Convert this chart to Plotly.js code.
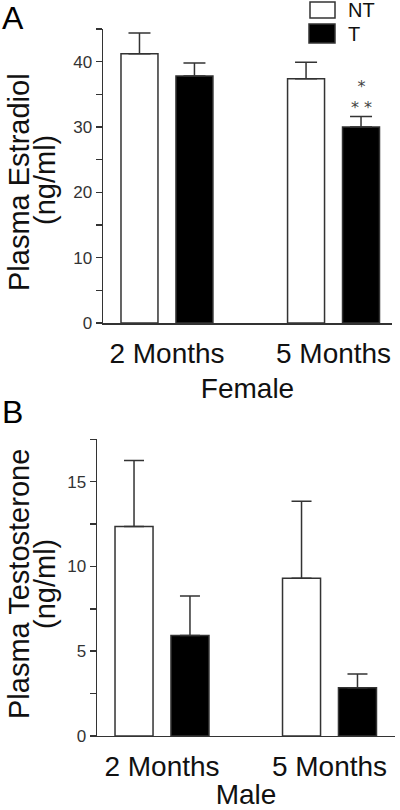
<!DOCTYPE html>
<html>
<head>
<meta charset="utf-8">
<script src="https://cdn.plot.ly/plotly-3.0.1.min.js"></script>
<style>html,body{margin:0;padding:0;background:#fff;}#chart{width:400px;height:810px;}</style>
</head>
<body>
<div id="chart"></div>
<script>
// Data
var categories = ['2 Months', '5 Months'];
var seriesNames = ['NT', 'T'];
// Panel A: Plasma Estradiol (ng/ml), Female
var estradiolNT = [41.2, 37.4];
var estradiolNTerr = [3.2, 2.5];
var estradiolT = [37.8, 30.0];
var estradiolTerr = [2.0, 1.6];
// Panel B: Plasma Testosterone (ng/ml), Male
var testoNT = [12.35, 9.3];
var testoNTerr = [3.9, 4.55];
var testoT = [5.92, 2.84];
var testoTerr = [2.33, 0.81];
var yTicksA = [0, 10, 20, 30, 40];
var yTicksB = [0, 5, 10, 15];

var font = 'Arial, "Liberation Sans", Helvetica, sans-serif';
var lineCol = '#333';

function bar(x, y, err, name, fill, xa, ya, w, off, ew) {
  return {
    type: 'bar', x: x, y: y, name: name, xaxis: xa, yaxis: ya,
    width: w, offset: off,
    marker: {color: fill, line: {color: lineCol, width: 1.5}},
    error_y: {type: 'data', array: err, arrayminus: err.map(function(){return 0;}), symmetric: false,
      color: lineCol, thickness: 1.5, width: ew},
    showlegend: false, hoverinfo: 'skip'
  };
}

var traces = [
  bar(categories, estradiolNT, estradiolNTerr, seriesNames[0], '#fff', 'x', 'y', 0.222, -0.276, 11),
  bar(categories, estradiolT, estradiolTerr, seriesNames[1], '#000', 'x', 'y', 0.222, 0.054, 11),
  bar(categories, testoNT, testoNTerr, seriesNames[0], '#fff', 'x2', 'y2', 0.227, -0.2805, 10),
  bar(categories, testoT, testoTerr, seriesNames[1], '#000', 'x2', 'y2', 0.227, 0.0535, 10)
];

function xaxis(domain, range, title, anchor, standoff) {
  return {
    domain: domain, anchor: anchor, type: 'category', categoryarray: categories,
    range: range, showline: true, linecolor: lineCol, linewidth: 1.5,
    ticks: '', showgrid: false, zeroline: false, fixedrange: true,
    tickfont: {family: font, size: 28, color: '#111'},
    ticklabelstandoff: 5,
    title: {text: title, font: {family: font, size: 28, color: '#111'}, standoff: standoff}
  };
}
function yaxis(domain, range, ticks, anchor, minorStep) {
  return {
    domain: domain, anchor: anchor, range: range, showline: true, linecolor: lineCol, linewidth: 1.5,
    tickmode: 'array', tickvals: ticks, ticktext: ticks.map(String),
    ticks: 'outside', ticklen: 6, tickwidth: 1.5, tickcolor: lineCol,
    minor: {dtick: minorStep, tick0: 0, ticks: 'outside', ticklen: 6, tickwidth: 1.5, tickcolor: lineCol},
    showgrid: false, zeroline: false, fixedrange: true,
    tickfont: {family: font, size: 17, color: '#333'}
  };
}

var layout = {
  width: 400, height: 810,
  margin: {l: 0, r: 0, t: 0, b: 0},
  paper_bgcolor: '#fff', plot_bgcolor: '#fff',
  showlegend: false,
  bargap: 0,
  xaxis: xaxis([0.2575, 0.98], [-0.384, 1.351], 'Female', 'y', 10),
  yaxis: yaxis([0.6012, 0.9642], [0, 45], yTicksA, 'x', 5),
  xaxis2: xaxis([0.2425, 0.9875], [-0.388, 1.391], 'Male', 'y2', 12),
  yaxis2: yaxis([0.0914, 0.4577], [0, 17.5], yTicksB, 'x2', 2.5),
  shapes: [
    {type: 'rect', xref: 'paper', yref: 'paper', x0: 310/400, x1: 335/400, y0: 1-18/810, y1: 1-2/810,
     fillcolor: '#fff', line: {color: lineCol, width: 1.5}},
    {type: 'rect', xref: 'paper', yref: 'paper', x0: 309/400, x1: 335/400, y0: 1-43/810, y1: 1-24/810,
     fillcolor: '#000', line: {color: lineCol, width: 1.5}}
  ],
  annotations: [
    {text: 'A', xref: 'paper', yref: 'paper', x: 0, y: 1, xanchor: 'left', yanchor: 'top', showarrow: false,
     font: {family: font, size: 32, color: '#000'}, xshift: 0, yshift: 2},
    {text: 'B', xref: 'paper', yref: 'paper', x: 0, y: 1-392/810, xanchor: 'left', yanchor: 'top', showarrow: false,
     font: {family: font, size: 32, color: '#000'}, xshift: 0, yshift: 0},
    {text: seriesNames[0], xref: 'paper', yref: 'paper', x: 346/400, y: 1-10/810, xanchor: 'left', yanchor: 'middle', showarrow: false,
     font: {family: font, size: 20, color: '#111'}},
    {text: seriesNames[1], xref: 'paper', yref: 'paper', x: 346/400, y: 1-34/810, xanchor: 'left', yanchor: 'middle', showarrow: false,
     font: {family: font, size: 20, color: '#111'}},
    {text: 'Plasma Estradiol', xref: 'paper', yref: 'paper', x: 19/400, y: 1-182/810, xanchor: 'center', yanchor: 'middle',
     textangle: -90, showarrow: false, font: {family: font, size: 29, color: '#111'}},
    {text: '(ng/ml)', xref: 'paper', yref: 'paper', x: 45/400, y: 1-180/810, xanchor: 'center', yanchor: 'middle',
     textangle: -90, showarrow: false, font: {family: font, size: 29, color: '#111'}},
    {text: 'Plasma Testosterone', xref: 'paper', yref: 'paper', x: 19/400, y: 1-584/810, xanchor: 'center', yanchor: 'middle',
     textangle: -90, showarrow: false, font: {family: font, size: 29, color: '#111'}},
    {text: '(ng/ml)', xref: 'paper', yref: 'paper', x: 45/400, y: 1-584/810, xanchor: 'center', yanchor: 'middle',
     textangle: -90, showarrow: false, font: {family: font, size: 29, color: '#111'}},
    {text: '*<br>* *', xref: 'x', yref: 'y', x: 1.165, y: estradiolT[1] + estradiolTerr[1], xanchor: 'center', yanchor: 'bottom',
     showarrow: false, yshift: -2, font: {family: '"DejaVu Sans", sans-serif', size: 16, color: '#444'}}
  ]
};

Plotly.newPlot('chart', traces, layout, {displayModeBar: false, staticPlot: true});
</script>
</body>
</html>
